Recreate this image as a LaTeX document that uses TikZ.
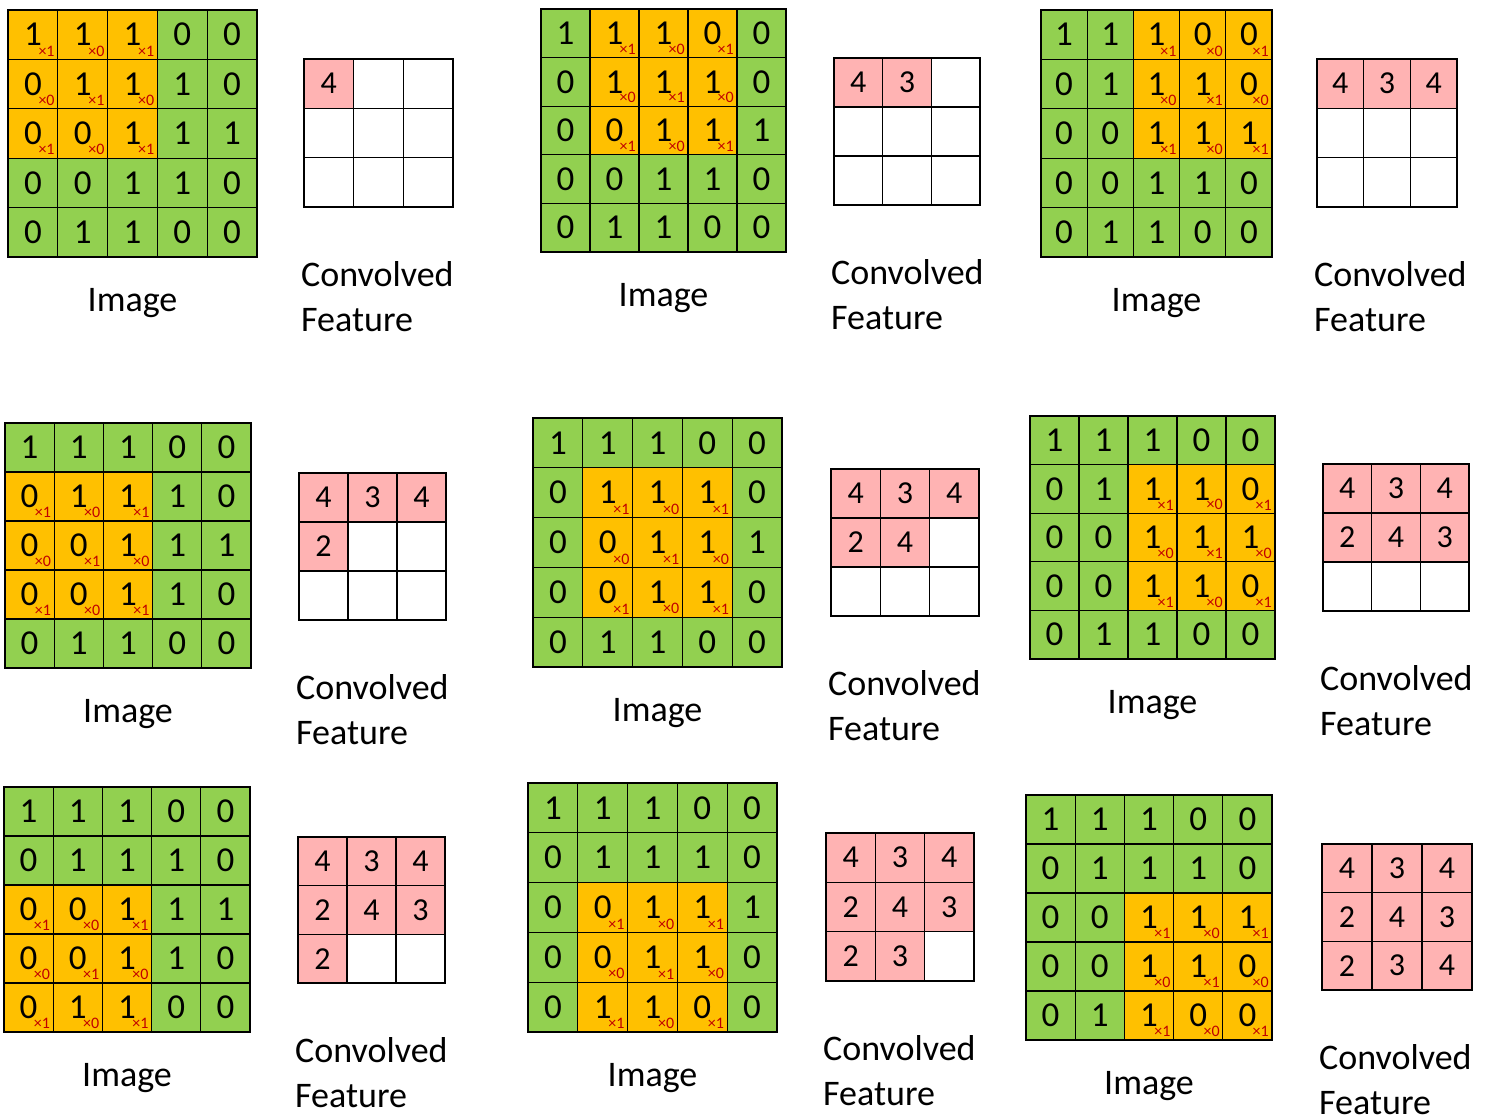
\documentclass[tikz,border=0pt]{standalone}
\usepackage{fontspec}
\setmainfont{Carlito}
\usetikzlibrary{calc}
\definecolor{cgreen}{HTML}{92D050}
\definecolor{corange}{HTML}{FFC000}
\definecolor{cpink}{HTML}{FFB3B3}
\definecolor{cred}{HTML}{C00000}
\def\ImgVals{{1,1,1,0,0,0,1,1,1,0,0,0,1,1,1,0,0,1,1,0,0,1,1,0,0}}
\def\KernVals{{1,0,1,0,1,0,1,0,1}}
\def\ConvVals{{4,3,4,2,4,3,2,3,4}}
\tikzset{
 cellbox/.style={draw=black, line width=1.3pt, inner sep=0pt, outer sep=0pt, anchor=north west, font=\fontsize{35}{35}\selectfont},
 convbox/.style={draw=black, line width=1.3pt, inner sep=0pt, outer sep=0pt, anchor=north west, font=\fontsize{32}{32}\selectfont},
 kernlab/.style={inner sep=0pt, text=cred, font=\fontsize{16}{16}\selectfont, anchor=south east},
 imglabel/.style={anchor=base, inner sep=0pt, font=\fontsize{36}{36}\selectfont},
 featlabel/.style={anchor=north west, inner sep=0pt, align=left, font=\fontsize{36}{45}\selectfont},
}
% #1 panel index (0..8); #2-#5 image grid x0,y0,x1,y1; #6-#9 conv grid x0,y0,x1,y1
\newcommand{\PanelDraw}[9]{%
 \pgfmathtruncatemacro{\PanR}{int(#1/3)}%
 \pgfmathtruncatemacro{\PanC}{mod(#1,3)}%
 \pgfmathsetmacro{\CellW}{(#4-#2)/5}%
 \pgfmathsetmacro{\CellH}{(#5-#3)/5}%
 \foreach \i in {0,...,4}{\foreach \j in {0,...,4}{%
   \pgfmathtruncatemacro{\CellV}{\ImgVals[5*\i+\j]}%
   \pgfmathtruncatemacro{\InWin}{(\i>=\PanR)&&(\i<=\PanR+2)&&(\j>=\PanC)&&(\j<=\PanC+2)}%
   \ifnum\InWin=1 \def\FillC{corange}\else\def\FillC{cgreen}\fi
   \node[cellbox, fill=\FillC, minimum width=\CellW pt, minimum height=\CellH pt] (p#1-i\i\j) at ({#2+\j*\CellW},{#3+\i*\CellH}) {\CellV};
   \ifnum\InWin=1
     \pgfmathtruncatemacro{\KV}{\KernVals[3*(\i-\PanR)+(\j-\PanC)]}%
     \node[kernlab, xshift=-3pt, yshift=3pt] (p#1-k\i\j) at (p#1-i\i\j.south east) {×\KV};
   \fi
 }}
 \pgfmathsetmacro{\ConvW}{(#8-#6)/3}%
 \pgfmathsetmacro{\ConvH}{(#9-#7)/3}%
 \foreach \i in {0,...,2}{\foreach \j in {0,...,2}{%
   \pgfmathtruncatemacro{\Idx}{3*\i+\j}%
   \ifnum\Idx>#1
     \node[convbox, fill=white, minimum width=\ConvW pt, minimum height=\ConvH pt] (p#1-c\i\j) at ({#6+\j*\ConvW},{#7+\i*\ConvH}) {};
   \else
     \pgfmathtruncatemacro{\CV}{\ConvVals[\Idx]}%
     \node[convbox, fill=cpink, minimum width=\ConvW pt, minimum height=\ConvH pt] (p#1-c\i\j) at ({#6+\j*\ConvW},{#7+\i*\ConvH}) {\CV};
   \fi
 }}
 \node[imglabel] (p#1-il) at ({(#2+#4)/2},{#5+54}) {Image};
 \node[featlabel] (p#1-fl) at ({#6-3},{#9+54}) {Convolved\\Feature};
}
\begin{document}
\begin{tikzpicture}[x=1pt,y=-1pt]
\fill[white] (0,0) rectangle (1486,1118);
\useasboundingbox (0,0) rectangle (1486,1118);
\PanelDraw{0}{8}{10}{257}{257}{304}{59}{453}{207}
\PanelDraw{1}{541}{9}{786}{252}{834}{58}{980}{205}
\PanelDraw{2}{1041}{10}{1272}{257}{1317}{59}{1457}{207}
\PanelDraw{3}{5}{423}{251}{668}{299}{473}{446}{620}
\PanelDraw{4}{533}{418}{782}{667}{831}{469}{979}{616}
\PanelDraw{5}{1030}{416}{1275}{659}{1323}{464}{1469}{611}
\PanelDraw{6}{4}{787}{250}{1032}{298}{837}{445}{983}
\PanelDraw{7}{528}{783}{777}{1032}{826}{833}{974}{981}
\PanelDraw{8}{1026}{795}{1272}{1040}{1322}{844}{1472}{990}
\end{tikzpicture}
\end{document}
